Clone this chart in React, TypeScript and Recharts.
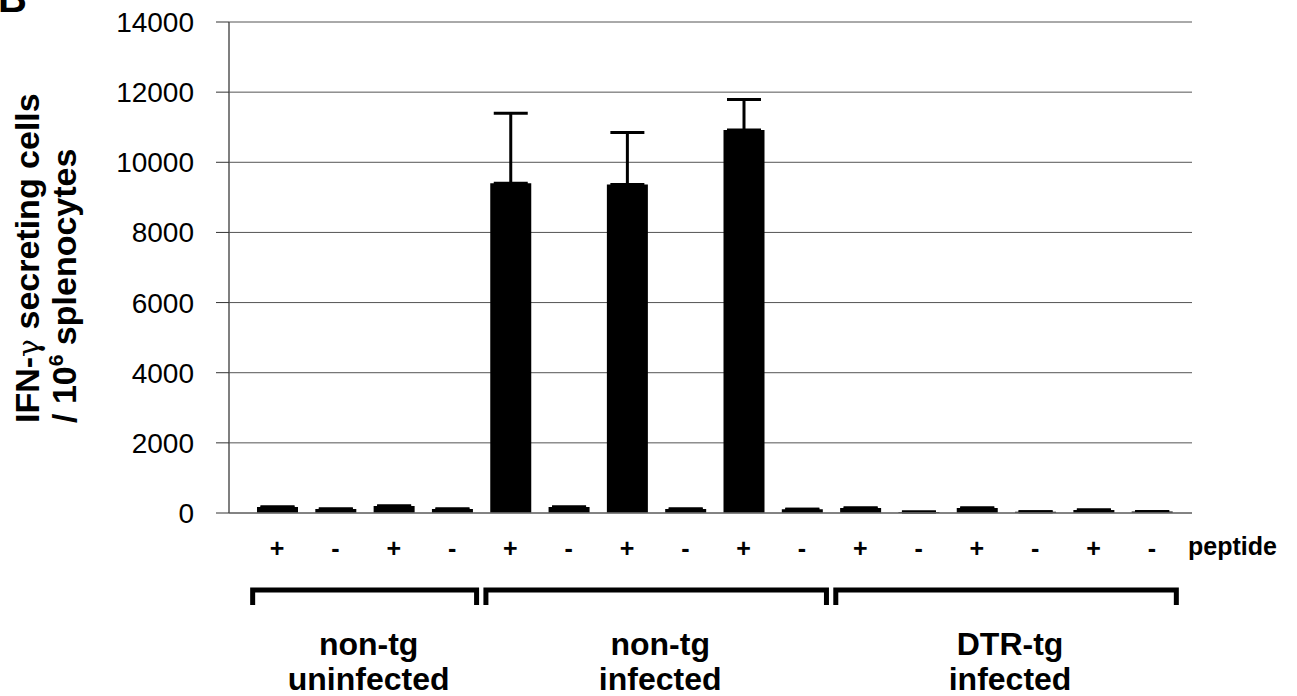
import { Bar, BarChart, CartesianGrid, Customized, ErrorBar, XAxis, YAxis } from 'recharts'

const FONT = '"Liberation Sans", Arial, Helvetica, sans-serif'

// peptide stimulation per column, IFN-g spots per 10^6 cells, upper error
const peptide = ['+', '-', '+', '-', '+', '-', '+', '-', '+', '-', '+', '-', '+', '-', '+', '-']
const spots = [170, 115, 200, 115, 9400, 170, 9370, 115, 10920, 110, 140, 30, 140, 35, 85, 45]
const spotErr = [0, 0, 0, 0, 2000, 0, 1480, 0, 870, 0, 0, 0, 0, 0, 0, 0]
const yTicks = [0, 2000, 4000, 6000, 8000, 10000, 12000, 14000]

const groupTop = ['non-tg', 'non-tg', 'DTR-tg']
const groupBottom = ['uninfected', 'infected', 'infected']
const groupFirst = [0, 4, 10]
const groupLast = [3, 9, 15]

const rows = peptide.map((p, i) => ({
  id: i,
  peptide: p,
  spots: spots[i],
  err: [0, spotErr[i]],
}))

// layout
const W = 1297
const H = 696
const PLOT_LEFT = 229
const PLOT_RIGHT = 1192
const PLOT_TOP = 22
const PLOT_BOTTOM = 513
const PAD_L = 19
const PAD_R = 11

const band = (PLOT_RIGHT - PLOT_LEFT - PAD_L - PAD_R) / peptide.length
const colX = (i: number) => PLOT_LEFT + PAD_L + band * (i + 0.5)

function PeptideTick({ x, y, index }: any) {
  return (
    <text
      x={x}
      y={y}
      dy={44}
      textAnchor="middle"
      fontFamily={FONT}
      fontWeight="bold"
      fontSize={25}
      fill="#000"
    >
      {peptide[index]}
    </text>
  )
}

function Decorations() {
  const over = band * 0.42
  return (
    <g fontFamily={FONT} fill="#000">
      <text x={-2} y={12} fontSize={40} fontWeight="bold">B</text>

      {/* y axis title */}
      <text transform="translate(39, 423) rotate(-90)" fontSize={34} fontWeight="bold">
        IFN-<tspan fontWeight="normal" fontFamily="'DejaVu Serif', serif" fontSize={30}>γ</tspan> secreting cells
      </text>
      <text transform="translate(76, 423) rotate(-90)" fontSize={34} fontWeight="bold">
        / 10<tspan dy={-13} fontSize={21}>6</tspan><tspan dy={13}> splenocytes</tspan>
      </text>

      <text x={1188} y={555} fontSize={25} fontWeight="bold">peptide</text>

      {groupFirst.map((first, g) => {
        const x1 = colX(first) - over
        const x2 = colX(groupLast[g]) + over
        const mid = (x1 + x2) / 2
        return (
          <g key={g}>
            <path
              d={`M${x1},605 L${x1},590 L${x2},590 L${x2},605`}
              fill="none"
              stroke="#000"
              strokeWidth={5}
            />
            <text x={mid + 4} y={655} textAnchor="middle" fontSize={32} fontWeight="bold">
              {groupTop[g]}
            </text>
            <text x={mid + 4} y={690} textAnchor="middle" fontSize={32} fontWeight="bold">
              {groupBottom[g]}
            </text>
          </g>
        )
      })}
    </g>
  )
}

export default function App() {
  return (
    <div style={{ position: 'absolute', left: 0, top: 0, width: W, height: H, background: '#fff' }}>
      <BarChart
        width={W}
        height={H}
        data={rows}
        margin={{ top: PLOT_TOP, right: W - PLOT_RIGHT, left: 0, bottom: 0 }}
        barCategoryGap={0}
      >
        <CartesianGrid vertical={false} stroke="#555" strokeWidth={1} />
        <XAxis
          dataKey="id"
          type="category"
          height={H - PLOT_BOTTOM}
          padding={{ left: PAD_L, right: PAD_R }}
          tickLine={false}
          tickSize={0}
          tickMargin={0}
          axisLine={{ stroke: '#777', strokeWidth: 1.5 }}
          tick={<PeptideTick />}
          interval={0}
        />
        <YAxis
          width={PLOT_LEFT}
          domain={[0, 14000]}
          ticks={yTicks}
          interval={0}
          tickSize={13}
          tickMargin={22}
          tickLine={{ stroke: '#333' }}
          axisLine={{ stroke: '#555', strokeWidth: 1.5 }}
          tick={{ fontFamily: FONT, fontSize: 28, fill: '#000' }}
          allowDataOverflow
        />
        <YAxis
          yAxisId="r"
          orientation="right"
          width={0}
          domain={[0, 14000]}
          tick={false}
          tickLine={false}
          axisLine={{ stroke: '#888', strokeWidth: 1.5 }}
        />
        <Bar dataKey="spots" fill="#000" barSize={41} isAnimationActive={false}>
          <ErrorBar dataKey="err" width={17} strokeWidth={3} stroke="#000" direction="y" />
        </Bar>
        <Customized component={<Decorations />} />
      </BarChart>
    </div>
  )
}
